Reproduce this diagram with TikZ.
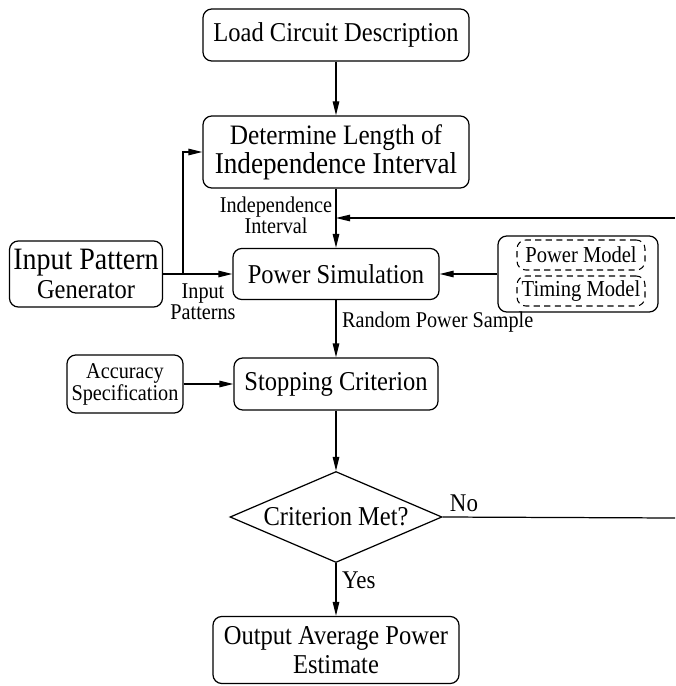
\documentclass[tikz,border=0pt]{standalone}
\usepackage{fontspec}
\setmainfont{Liberation Serif}[FakeStretch=0.9]
\usetikzlibrary{arrows.meta, positioning, shapes.geometric}

\begin{document}
\begin{tikzpicture}[
  box/.style={draw, rounded corners=5pt, line width=0.7pt, align=center, inner sep=2pt, font=\fontsize{15.5}{16.5}\selectfont},
  dbox/.style={draw, dash pattern=on 3.5pt off 2.5pt, rounded corners=5pt, line width=0.6pt, minimum width=2.56cm, minimum height=0.6cm, inner sep=0pt, font=\fontsize{13}{14}\selectfont},
  lab/.style={align=center, inner sep=1pt, font=\fontsize{12.8}{12}\selectfont},
  yn/.style={inner sep=1pt, font=\fontsize{14.5}{15}\selectfont},
  arr/.style={-{Triangle[length=2.8mm,width=1.3mm]}, line width=0.7pt}]
\useasboundingbox (0,0) rectangle (13.5,-13.72);
\node[box, minimum width=5.32cm, minimum height=1.04cm] (load) at (6.72,-0.70) {Load Circuit Description};
\node[box, minimum width=5.32cm, minimum height=1.44cm] (indep) at (6.72,-3.04) {{\fontsize{16}{16.5}\selectfont Determine Length of}\\{\fontsize{17.2}{16.5}\selectfont Independence Interval}};
\node[box, minimum width=4.12cm, minimum height=1.02cm] (sim) at (6.72,-5.48) {Power Simulation};
\node[box, minimum width=3.06cm, minimum height=1.32cm] (gen) at (1.72,-5.48) {{\fontsize{17.7}{16.5}\selectfont Input Pattern}\\Generator};
\node[box, minimum width=3.2cm, minimum height=1.52cm] (models) at (11.56,-5.48) {};
\foreach \n/\y/\t in {pm/-5.10/Power Model, tm/-5.82/Timing Model} { \node[dbox] (\n) at (11.62,\y) {\t}; }
\node[box, minimum width=4.08cm, minimum height=1.04cm] (stop) at (6.72,-7.68) {Stopping Criterion};
\node[box, minimum width=2.32cm, minimum height=1.16cm, font=\fontsize{12.8}{12.5}\selectfont] (acc) at (2.5,-7.68) {Accuracy\\Specification};
\node[draw, diamond, aspect=2.33, minimum width=4.24cm, minimum height=1.82cm, inner sep=1pt, line width=0.7pt, font=\fontsize{15.5}{16}\selectfont] (crit) at (6.72,-10.34) {Criterion Met?};
\node[box, minimum width=4.92cm, minimum height=1.34cm] (out) at (6.72,-13.0) {Output Average Power\\Estimate};
\node[lab] (ivl) at (5.52,-4.3) {Independence\\Interval};
\node[lab] (pat) at (4.06,-6.04) {Input\\Patterns};
\node[lab, anchor=west] (rps) at (6.8,-6.44) {Random Power Sample};
\node[yn] (no) at (9.28,-10.06) {No};
\node[yn, anchor=west] (yes) at (6.8,-11.6) {Yes};
\coordinate (fbin) at (13.5,-4.36);
\coordinate (fbout) at (13.5,-10.36);
\coordinate (br) at (3.66,-5.48);
\draw[arr] (load) -- (indep);
\draw[arr] (indep) -- (sim);
\draw[arr] (fbin) -- (fbin -| indep);
\draw[arr] (gen) -- (sim);
\draw[arr] (br) |- (indep.west);
\draw[arr] (models) -- (sim);
\draw[arr] (sim) -- (stop);
\draw[arr] (acc) -- (stop);
\draw[arr] (stop) -- (crit);
\draw[arr] (crit) -- (out);
\draw[line width=0.7pt] (crit.east) -- (fbout);
\end{tikzpicture}
\end{document}
